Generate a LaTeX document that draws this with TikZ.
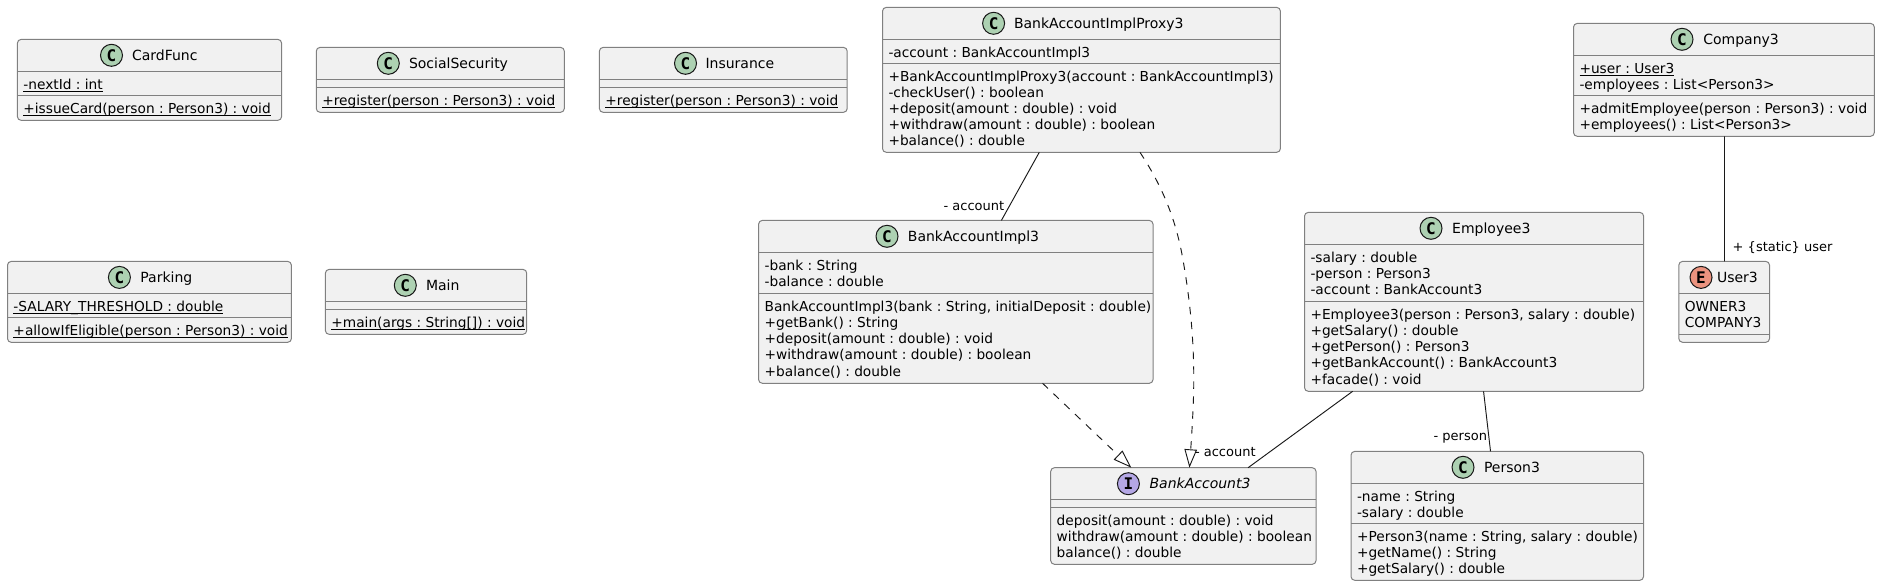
\documentclass[tikz,border=0pt]{standalone}
\usepackage{fontspec}
\setmainfont{DejaVu Sans}
\newfontfamily\iconfont{DejaVu Sans Mono}
\usetikzlibrary{calc,arrows.meta}
\frenchspacing
\definecolor{boxfill}{HTML}{F1F1F1}
\definecolor{boxline}{HTML}{808080}
\definecolor{ink}{HTML}{181818}
\definecolor{iconC}{HTML}{ADD1B2}
\definecolor{iconI}{HTML}{B4A7E5}
\definecolor{iconE}{HTML}{EB937F}
\tikzset{
  classbox/.style={draw=boxline,fill=boxfill,line width=.75pt,rounded corners=2.8pt,inner sep=0pt,outer sep=0pt},
  divider/.style={draw=boxline,line width=.75pt},
  rowtext/.style={anchor=base west,inner sep=0pt,outer sep=0pt,text=black,font=\fontsize{10.3}{12}\selectfont},
  titletext/.style={anchor=base west,inner sep=0pt,outer sep=0pt,text=black,font=\fontsize{10.5}{12}\selectfont},
  icon/.style={circle,draw=ink,line width=.75pt,minimum size=16.5pt,inner sep=0pt,font=\iconfont\bfseries\fontsize{12}{12}\selectfont},
  assoc/.style={draw=ink,line width=.7pt},
  realize/.style={draw=ink,line width=.7pt,dash pattern=on 5.6pt off 5.6pt,-{Triangle[open,length=13.8pt,width=9.4pt,line width=.7pt]}},
  rolelabel/.style={anchor=base west,inner sep=0pt,outer sep=0pt,text=black,font=\fontsize{9.75}{11}\selectfont},
}
\newcommand{\staticmember}[1]{\setbox0\hbox{#1}\rlap{\rule[-2.25pt]{\wd0}{.75pt}}\box0 }
% name, x1, y1, x2, y2
\newcommand{\umlbox}[5]{%
  \pgfmathsetlengthmacro\bw{(#4-#2)*.75pt}%
  \pgfmathsetlengthmacro\bh{(#5-#3)*.75pt}%
  \node[classbox,minimum width=\bw,minimum height=\bh] (#1) at ({(#2+#4)/2},{(#3+#5)/2}) {};}
% name, cx, cy, colour, letter, text x, title
\newcommand{\umltitle}[7]{%
  \node[icon,fill=#4] (#1-icon) at (#2,#3) {#5};
  \node[titletext] (#1-title) at (#6,#3+4.7) {#7};}
\newcommand{\divline}[2]{\draw[divider] (#1.west |- 0,#2) -- (#1.east |- 0,#2);}
% name, tag, y of divider, rows
\newcommand{\rows}[4]{%
  \divline{#1}{#3}
  \foreach \t [count=\i] in {#4} {
    \node[rowtext] (#1-#2\i) at ($(#1.west |- 0,#3)+(6,{17.6+16.2*(\i-1)})$) {\t};
  }}
\begin{document}
\begin{tikzpicture}[x=.75pt,y=-.75pt]
\useasboundingbox (0,0) rectangle (1880,586);
\fill[white] (0,0) rectangle (1880,586);

% CardFunc
\umlbox{cardfunc}{17.4}{39.4}{281.6}{120.3}
\umltitle{cardfunc}{111.5}{55.3}{iconC}{C}{132}{CardFunc}
\rows{cardfunc}{a}{71.5}{\staticmember{-nextId : int}}
\rows{cardfunc}{m}{95.5}{\staticmember{+issueCard(person : Person3) : void}}

% SocialSecurity
\umlbox{social}{316.3}{47.4}{564.3}{112.3}
\umltitle{social}{388.3}{63.3}{iconC}{C}{409}{SocialSecurity}
\divline{social}{79.4}
\rows{social}{m}{87.4}{\staticmember{+register(person : Person3) : void}}

% Insurance
\umlbox{insurance}{599.4}{47.4}{847.2}{112.3}
\umltitle{insurance}{685.5}{63.3}{iconC}{C}{705.5}{Insurance}
\divline{insurance}{79.4}
\rows{insurance}{m}{87.4}{\staticmember{+register(person : Person3) : void}}

% Parking
\umlbox{parking}{7.5}{261.4}{291.4}{342.3}
\umltitle{parking}{119.4}{277.4}{iconC}{C}{140.4}{Parking}
\rows{parking}{a}{293.4}{\staticmember{-SALARY\_THRESHOLD : double}}
\rows{parking}{m}{317.4}{\staticmember{+allowIfEligible(person : Person3) : void}}

% Main
\umlbox{main}{325.4}{269.4}{526.7}{334.3}
\umltitle{main}{405.3}{285.3}{iconC}{C}{426}{Main}
\divline{main}{301.4}
\rows{main}{m}{309.4}{\staticmember{+main(args : String[]) : void}}

% BankAccountImplProxy3
\umlbox{proxy}{882.5}{7.4}{1280.4}{152.3}
\umltitle{proxy}{993.6}{23.3}{iconC}{C}{1014}{BankAccountImplProxy3}
\rows{proxy}{a}{39.4}{-account : BankAccountImpl3}
\rows{proxy}{m}{63.4}{+BankAccountImplProxy3(account : BankAccountImpl3),-checkUser() : boolean,+deposit(amount : double) : void,+withdraw(amount : double) : boolean,+balance() : double}

% BankAccountImpl3
\umlbox{impl}{758.6}{220.4}{1153}{383.3}
\umltitle{impl}{887}{236.3}{iconC}{C}{907.9}{BankAccountImpl3}
\rows{impl}{a}{252.4}{-bank : String,-balance : double}
\rows{impl}{m}{293.6}{{BankAccountImpl3(bank : String, initialDeposit : double)},+getBank() : String,+deposit(amount : double) : void,+withdraw(amount : double) : boolean,+balance() : double}

% Employee3
\umlbox{employee}{1304.5}{212.4}{1643.6}{391.3}
\umltitle{employee}{1431}{228.3}{iconC}{C}{1452.2}{Employee3}
\rows{employee}{a}{244.4}{-salary : double,-person : Person3,-account : BankAccount3}
\rows{employee}{m}{301.6}{{+Employee3(person : Person3, salary : double)},+getSalary() : double,+getPerson() : Person3,+getBankAccount() : BankAccount3,+facade() : void}

% Company3
\umlbox{company}{1573.5}{23.4}{1874.3}{136.3}
\umltitle{company}{1682}{39.3}{iconC}{C}{1703.3}{Company3}
\rows{company}{a}{55.4}{\staticmember{+user : User3},-employees : List<Person3>}
\rows{company}{m}{95.5}{+admitEmployee(person : Person3) : void,+employees() : List<Person3>}

% User3
\umlbox{user}{1678.8}{261.4}{1769.5}{342.3}
\umltitle{user}{1701}{277.4}{iconE}{E}{1717}{User3}
\rows{user}{a}{293.4}{OWNER3,COMPANY3}
\divline{user}{334.4}

% BankAccount3
\umlbox{bankaccount}{1050.7}{467.7}{1316}{564.3}
\umltitle{bankaccount}{1128.4}{483.7}{iconI}{I}{1149.6}{\itshape BankAccount3}
\divline{bankaccount}{499.6}
\rows{bankaccount}{m}{507.6}{deposit(amount : double) : void,withdraw(amount : double) : boolean,balance() : double}

% Person3
\umlbox{person}{1351}{451.4}{1643.5}{580.3}
\umltitle{person}{1463}{467.3}{iconC}{C}{1484}{Person3}
\rows{person}{a}{483.4}{-name : String,-salary : double}
\rows{person}{m}{523.5}{{+Person3(name : String, salary : double)},+getName() : String,+getSalary() : double}

% Connectors
\draw[assoc] ($(proxy.south west)!.394!(proxy.south east)$) -- ($(impl.north west)!.6156!(impl.north east)$);
\draw[assoc] ($(company.south west)!.502!(company.south east)$) -- ($(user.north west)!.5039!(user.north east)$);
\draw[assoc] ($(employee.south west)!.142!(employee.south east)$) -- ($(bankaccount.north west)!.744!(bankaccount.north east)$);
\draw[assoc] ($(employee.south west)!.528!(employee.south east)$) -- ($(person.north west)!.477!(person.north east)$);
\draw[realize] ($(impl.south west)!.72!(impl.south east)$) -- ($(bankaccount.north west)!.304!(bankaccount.north east)$);
\draw[realize] ($(proxy.south west)!.647!(proxy.south east)$)
  .. controls (1165,190) and (1177,225) .. (1183,260)
  .. controls (1190,300) and (1195,345) .. (1193.5,397)
  .. controls (1192.5,425) and (1191,445) .. ($(bankaccount.north west)!.523!(bankaccount.north east)$);

% Role labels
\node[rolelabel] (lab-account1) at (943.6,210) {- account};
\node[rolelabel] (lab-account2) at (1195,456.3) {- account};
\node[rolelabel] (lab-person) at (1433.6,440.3) {- person};
\node[rolelabel] (lab-user) at (1732.7,251) {+ \{static\} user};
\end{tikzpicture}
\end{document}
